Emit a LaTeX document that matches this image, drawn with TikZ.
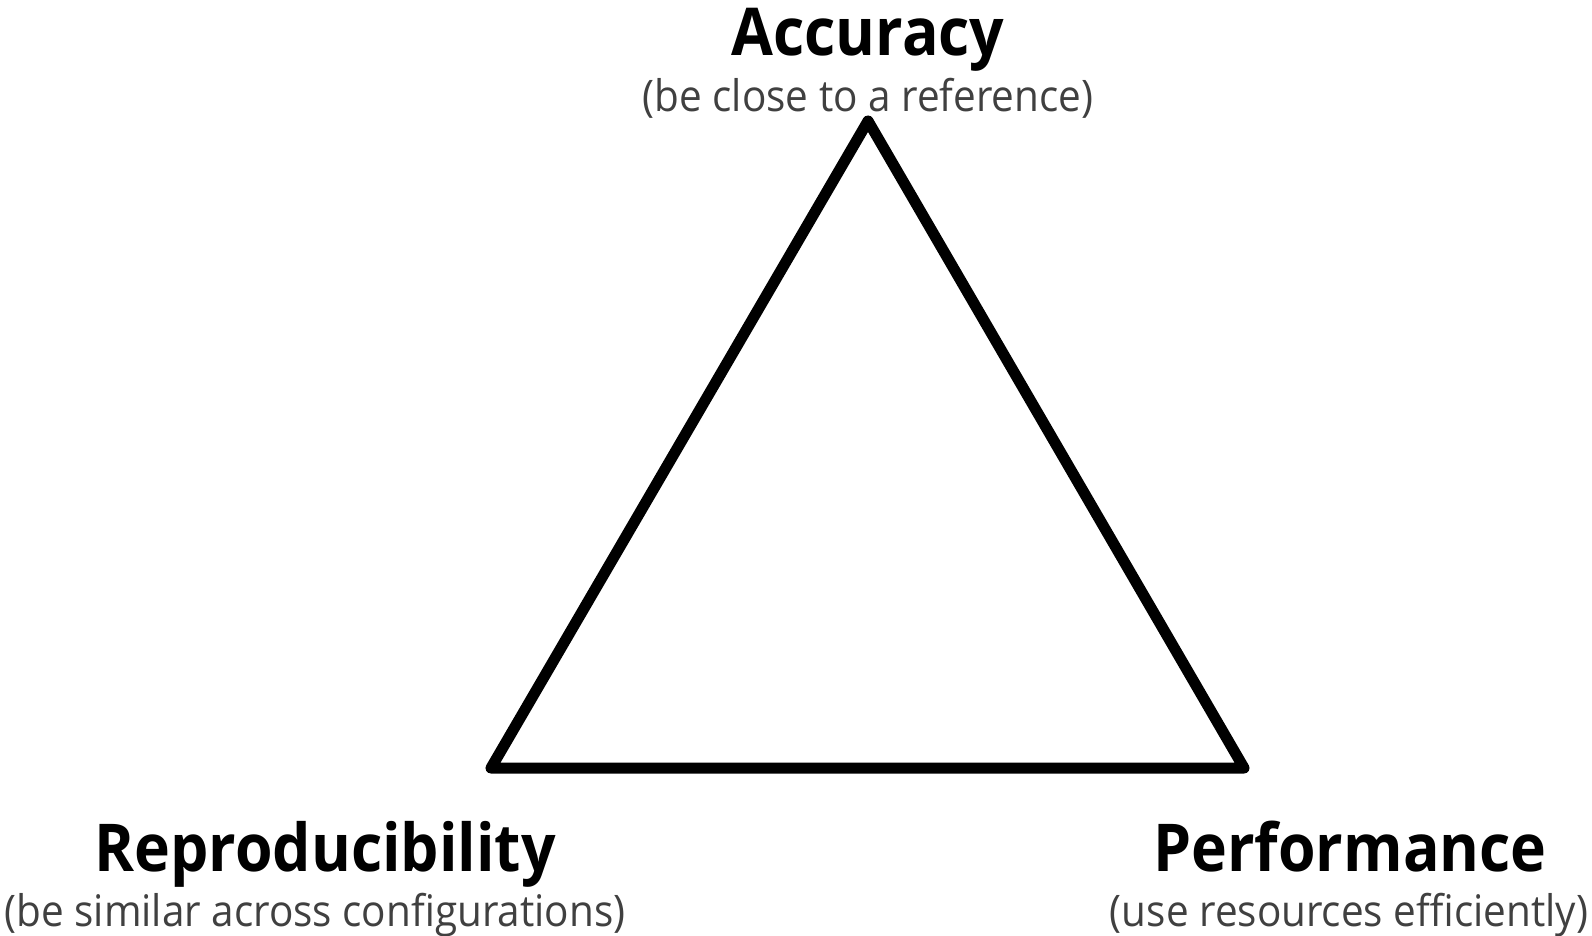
\documentclass[tikz,border=0pt]{standalone}
\usepackage{fontspec}
\setmainfont{Open Sans}
\newfontfamily\titlefont[FakeStretch=0.92]{Open Sans Bold}
\newfontfamily\subfont[FakeStretch=0.93]{Open Sans}
\definecolor{subgray}{HTML}{404040}
\begin{document}
\begin{tikzpicture}[x=1pt,y=-1pt,
  title/.style={anchor=base,inner sep=0pt,font=\fontsize{66}{66}\titlefont,text=black},
  sub/.style={anchor=base,inner sep=0pt,font=\fontsize{43.5}{43.5}\subfont,text=subgray},
  tri/.style={draw=black,line width=11pt,line join=round}]
\useasboundingbox (0,0) rectangle (1592,936);
\coordinate (A) at (868,121);
\coordinate (R) at (491,768);
\coordinate (P) at (1244,768);
\draw[tri] (A) -- (R) -- (P) -- cycle;
\node[title] (tA) at (868,56) {Accuracy};
\node[sub] (sA) at (868,112) {(be close to a reference)};
\node[title] (tR) at (325,871) {Reproducibility};
\node[sub] (sR) at (315,926) {(be similar across configurations)};
\node[title] (tP) at (1350,871) {Performance};
\node[sub] (sP) at (1349,926) {(use resources efficiently)};
\end{tikzpicture}
\end{document}
